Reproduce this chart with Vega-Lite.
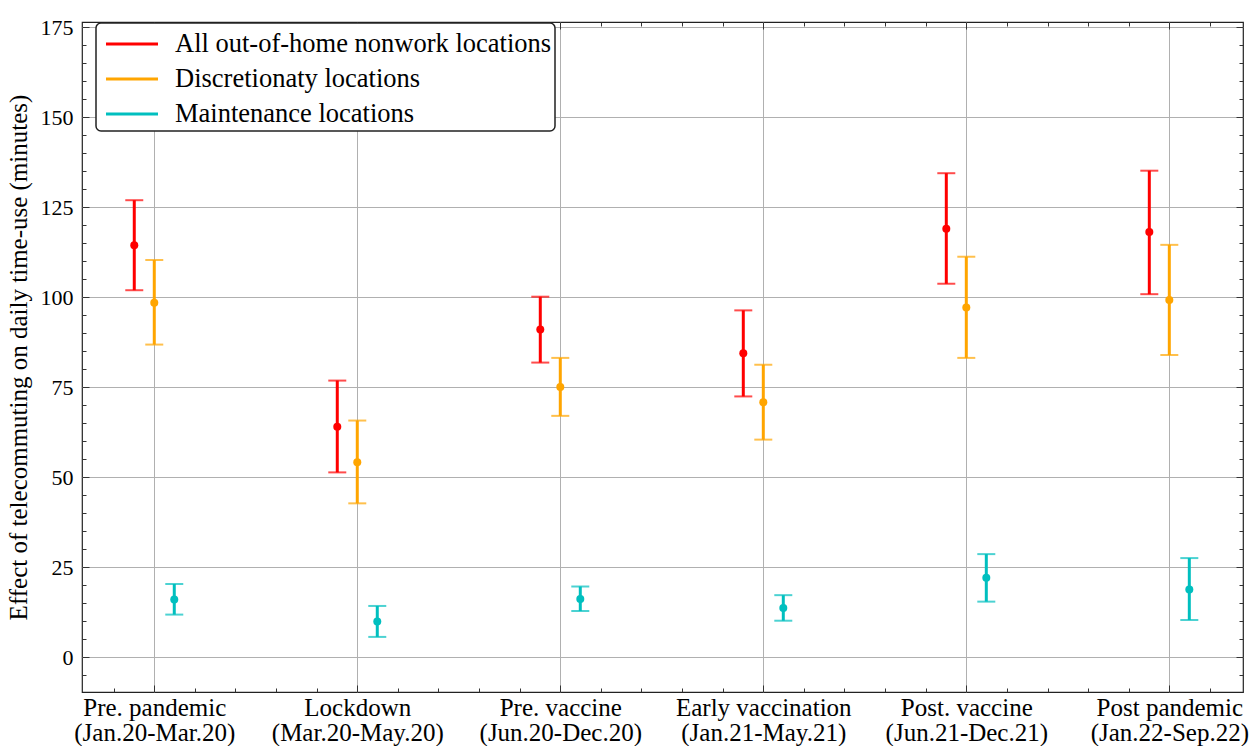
{
  "$schema": "https://vega.github.io/schema/vega-lite/v6.json",
  "width": 1161,
  "height": 670,
  "autosize": {"type": "none"},
  "padding": {"left": 82, "top": 22, "right": 12, "bottom": 54},
  "background": "white",
  "config": {
    "font": "Liberation Serif",
    "view": {"stroke": "#222", "strokeWidth": 1.2},
    "axis": {"domain": false, "labelFont": "Liberation Serif", "titleFont": "Liberation Serif", "labelColor": "black", "titleColor": "black", "tickColor": "#333", "labelFontSize": 22, "titleFontWeight": "normal"}
  },
  "data": {"values": [
    {"idx": 0, "series": "All out-of-home nonwork locations", "mean": 114.4, "lo": 101.9, "hi": 126.9},
    {"idx": 0, "series": "Discretionaty locations", "mean": 98.4, "lo": 86.8, "hi": 110.3},
    {"idx": 0, "series": "Maintenance locations", "mean": 16.0, "lo": 11.8, "hi": 20.3},
    {"idx": 1, "series": "All out-of-home nonwork locations", "mean": 64.0, "lo": 51.3, "hi": 76.8},
    {"idx": 1, "series": "Discretionaty locations", "mean": 54.1, "lo": 42.7, "hi": 65.7},
    {"idx": 1, "series": "Maintenance locations", "mean": 9.9, "lo": 5.6, "hi": 14.2},
    {"idx": 2, "series": "All out-of-home nonwork locations", "mean": 91.0, "lo": 81.8, "hi": 100.1},
    {"idx": 2, "series": "Discretionaty locations", "mean": 75.0, "lo": 67.0, "hi": 83.1},
    {"idx": 2, "series": "Maintenance locations", "mean": 16.1, "lo": 12.8, "hi": 19.6},
    {"idx": 3, "series": "All out-of-home nonwork locations", "mean": 84.4, "lo": 72.4, "hi": 96.3},
    {"idx": 3, "series": "Discretionaty locations", "mean": 70.8, "lo": 60.4, "hi": 81.2},
    {"idx": 3, "series": "Maintenance locations", "mean": 13.6, "lo": 10.1, "hi": 17.2},
    {"idx": 4, "series": "All out-of-home nonwork locations", "mean": 119.0, "lo": 103.7, "hi": 134.4},
    {"idx": 4, "series": "Discretionaty locations", "mean": 97.1, "lo": 83.1, "hi": 111.2},
    {"idx": 4, "series": "Maintenance locations", "mean": 22.0, "lo": 15.4, "hi": 28.6},
    {"idx": 5, "series": "All out-of-home nonwork locations", "mean": 118.1, "lo": 100.8, "hi": 135.1},
    {"idx": 5, "series": "Discretionaty locations", "mean": 99.2, "lo": 83.9, "hi": 114.5},
    {"idx": 5, "series": "Maintenance locations", "mean": 18.8, "lo": 10.3, "hi": 27.5}
  ]},
  "resolve": {"axis": {"x": "independent", "y": "independent"}},
  "layer": [
    {
      "transform": [{"filter": "datum.series == 'All out-of-home nonwork locations'"}],
      "mark": {"type": "rule", "strokeWidth": 3, "xOffset": -20},
      "encoding": {
        "x": {"field": "idx", "type": "quantitative", "scale": {"domain": [-0.356, 5.363], "nice": false, "zero": false},
          "axis": {"orient": "bottom", "values": [0, 1, 2, 3, 4, 5], "title": null, "grid": true, "gridColor": "#b0b0b0", "gridWidth": 1, "tickSize": -7, "labelPadding": 10, "labelFontSize": 25, "labelLineHeight": 25,
            "labelExpr": "datum.value == 0 ? ['Pre. pandemic', '(Jan.20-Mar.20)'] : datum.value == 1 ? ['Lockdown', '(Mar.20-May.20)'] : datum.value == 2 ? ['Pre. vaccine', '(Jun.20-Dec.20)'] : datum.value == 3 ? ['Early vaccination', '(Jan.21-May.21)'] : datum.value == 4 ? ['Post. vaccine', '(Jun.21-Dec.21)'] : ['Post pandemic', '(Jan.22-Sep.22)']"}},
        "y": {"field": "lo", "type": "quantitative", "scale": {"domain": [-9.7, 176.4], "nice": false, "zero": false},
          "axis": {"orient": "left", "values": [0, 25, 50, 75, 100, 125, 150, 175], "grid": true, "gridColor": "#b0b0b0", "gridWidth": 1, "tickSize": -7, "labelPadding": 16, "title": "Effect of telecommuting on daily time-use (minutes)", "titleFontSize": 25, "titlePadding": 9}},
        "y2": {"field": "hi"},
        "color": {"field": "series", "type": "nominal", "scale": {"domain": ["All out-of-home nonwork locations", "Discretionaty locations", "Maintenance locations"], "range": ["#ff0000", "#ffa500", "#00bfbf"]},
          "legend": {"title": null, "orient": "none", "legendX": 14, "legendY": 1, "symbolType": "M-1.6,0H1.6", "symbolSize": 1056, "symbolStrokeWidth": 3, "symbolOffset": 15, "labelFontSize": 26.5, "labelFont": "Liberation Serif", "labelColor": "black", "labelOffset": 25, "rowPadding": 3, "padding": 3, "strokeColor": "#222", "cornerRadius": 5, "fillColor": "white", "labelLimit": 500,
            "encode": {"legend": {"update": {"strokeWidth": {"value": 1.5}}}}}}
      }
    },
    {
      "transform": [{"filter": "datum.series == 'All out-of-home nonwork locations'"}],
      "mark": {"type": "tick", "orient": "horizontal", "size": 18, "thickness": 2, "xOffset": -20},
      "encoding": {
        "x": {"field": "idx", "type": "quantitative", "axis": {"orient": "bottom", "values": [-0.2, 0.2, 0.4, 0.6, 0.8, 1.2, 1.4, 1.6, 1.8, 2.2, 2.4, 2.6, 2.8, 3.2, 3.4, 3.6, 3.8, 4.2, 4.4, 4.6, 4.8, 5.2], "labels": false, "grid": false, "tickSize": -4, "title": null}},
        "y": {"field": "hi", "type": "quantitative", "axis": {"orient": "left", "values": [-5, 5, 10, 15, 20, 30, 35, 40, 45, 55, 60, 65, 70, 80, 85, 90, 95, 105, 110, 115, 120, 130, 135, 140, 145, 155, 160, 165, 170], "labels": false, "grid": false, "tickSize": -4, "title": null}},
        "color": {"field": "series", "type": "nominal"}
      }
    },
    {
      "transform": [{"filter": "datum.series == 'All out-of-home nonwork locations'"}],
      "mark": {"type": "tick", "orient": "horizontal", "size": 18, "thickness": 2, "xOffset": -20},
      "encoding": {
        "x": {"field": "idx", "type": "quantitative", "axis": {"orient": "top", "values": [0, 1, 2, 3, 4, 5], "labels": false, "grid": false, "tickSize": -7, "title": null}},
        "y": {"field": "lo", "type": "quantitative", "axis": {"orient": "right", "values": [0, 25, 50, 75, 100, 125, 150, 175], "labels": false, "grid": false, "tickSize": -7, "title": null}},
        "color": {"field": "series", "type": "nominal"}
      }
    },
    {
      "transform": [{"filter": "datum.series == 'All out-of-home nonwork locations'"}],
      "mark": {"type": "point", "filled": true, "opacity": 1, "size": 64, "xOffset": -20},
      "encoding": {
        "x": {"field": "idx", "type": "quantitative", "axis": {"orient": "top", "values": [-0.2, 0.2, 0.4, 0.6, 0.8, 1.2, 1.4, 1.6, 1.8, 2.2, 2.4, 2.6, 2.8, 3.2, 3.4, 3.6, 3.8, 4.2, 4.4, 4.6, 4.8, 5.2], "labels": false, "grid": false, "tickSize": -4, "title": null}},
        "y": {"field": "mean", "type": "quantitative", "axis": {"orient": "right", "values": [-5, 5, 10, 15, 20, 30, 35, 40, 45, 55, 60, 65, 70, 80, 85, 90, 95, 105, 110, 115, 120, 130, 135, 140, 145, 155, 160, 165, 170], "labels": false, "grid": false, "tickSize": -4, "title": null}},
        "color": {"field": "series", "type": "nominal"}
      }
    },
    {
      "transform": [{"filter": "datum.series == 'Discretionaty locations'"}],
      "mark": {"type": "rule", "strokeWidth": 3, "xOffset": 0},
      "encoding": {
        "x": {"field": "idx", "type": "quantitative", "axis": null},
        "y": {"field": "lo", "type": "quantitative", "axis": null},
        "y2": {"field": "hi"},
        "color": {"field": "series", "type": "nominal"}
      }
    },
    {
      "transform": [{"filter": "datum.series == 'Discretionaty locations'"}],
      "mark": {"type": "tick", "orient": "horizontal", "size": 18, "thickness": 2, "xOffset": 0},
      "encoding": {
        "x": {"field": "idx", "type": "quantitative", "axis": null},
        "y": {"field": "hi", "type": "quantitative", "axis": null},
        "color": {"field": "series", "type": "nominal"}
      }
    },
    {
      "transform": [{"filter": "datum.series == 'Discretionaty locations'"}],
      "mark": {"type": "tick", "orient": "horizontal", "size": 18, "thickness": 2, "xOffset": 0},
      "encoding": {
        "x": {"field": "idx", "type": "quantitative", "axis": null},
        "y": {"field": "lo", "type": "quantitative", "axis": null},
        "color": {"field": "series", "type": "nominal"}
      }
    },
    {
      "transform": [{"filter": "datum.series == 'Discretionaty locations'"}],
      "mark": {"type": "point", "filled": true, "opacity": 1, "size": 64, "xOffset": 0},
      "encoding": {
        "x": {"field": "idx", "type": "quantitative", "axis": null},
        "y": {"field": "mean", "type": "quantitative", "axis": null},
        "color": {"field": "series", "type": "nominal"}
      }
    },
    {
      "transform": [{"filter": "datum.series == 'Maintenance locations'"}],
      "mark": {"type": "rule", "strokeWidth": 3, "xOffset": 20},
      "encoding": {
        "x": {"field": "idx", "type": "quantitative", "axis": null},
        "y": {"field": "lo", "type": "quantitative", "axis": null},
        "y2": {"field": "hi"},
        "color": {"field": "series", "type": "nominal"}
      }
    },
    {
      "transform": [{"filter": "datum.series == 'Maintenance locations'"}],
      "mark": {"type": "tick", "orient": "horizontal", "size": 18, "thickness": 2, "xOffset": 20},
      "encoding": {
        "x": {"field": "idx", "type": "quantitative", "axis": null},
        "y": {"field": "hi", "type": "quantitative", "axis": null},
        "color": {"field": "series", "type": "nominal"}
      }
    },
    {
      "transform": [{"filter": "datum.series == 'Maintenance locations'"}],
      "mark": {"type": "tick", "orient": "horizontal", "size": 18, "thickness": 2, "xOffset": 20},
      "encoding": {
        "x": {"field": "idx", "type": "quantitative", "axis": null},
        "y": {"field": "lo", "type": "quantitative", "axis": null},
        "color": {"field": "series", "type": "nominal"}
      }
    },
    {
      "transform": [{"filter": "datum.series == 'Maintenance locations'"}],
      "mark": {"type": "point", "filled": true, "opacity": 1, "size": 64, "xOffset": 20},
      "encoding": {
        "x": {"field": "idx", "type": "quantitative", "axis": null},
        "y": {"field": "mean", "type": "quantitative", "axis": null},
        "color": {"field": "series", "type": "nominal"}
      }
    }
  ]
}
